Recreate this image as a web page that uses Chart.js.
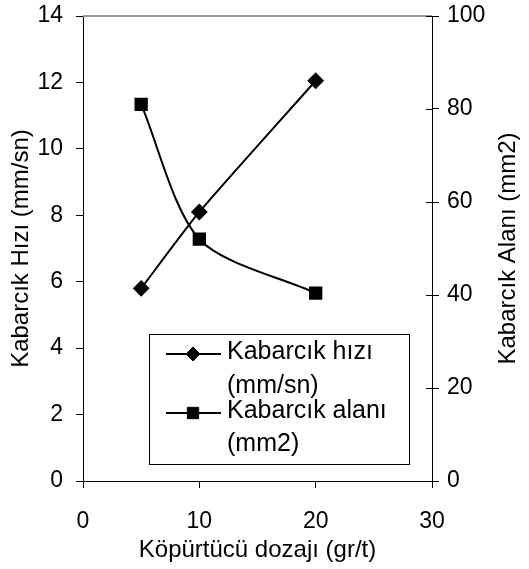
<!DOCTYPE html>
<html>
<head>
<meta charset="utf-8">
<script src="https://cdn.jsdelivr.net/npm/chart.js@4"></script>
<style>
  html, body { margin: 0; padding: 0; background: #fff; }
  #wrap { width: 529px; height: 569px; }
</style>
</head>
<body>
<div id="wrap"><canvas id="grafik" width="529" height="569"></canvas></div>
<script>
// veriler
const dozaj = [5, 10, 20];
const hiz = [5.8, 8.1, 12.05];
const alan = [81, 52, 40.4];
const xTicks = [0, 10, 20, 30];
const solTicks = [0, 2, 4, 6, 8, 10, 12, 14];
const sagTicks = [0, 20, 40, 60, 80, 100];
const seriAdlari = [['Kabarcık hızı', '(mm/sn)'], ['Kabarcık alanı', '(mm2)']];
const sagBaslik = 'Kabarcık Alanı (mm2)';

const FONT = 'Liberation Sans, Arial, sans-serif';

// lejant: excel tarzı, çok satırlı
const lejantPlugin = {
    id: 'lejant',
    afterDatasetsDraw(chart) {
        const ctx = chart.ctx;
        const x0 = 149, y0 = 334, w = 260, h = 130;
        ctx.save();
        ctx.fillStyle = '#fff';
        ctx.fillRect(x0, y0, w, h);
        ctx.strokeStyle = '#000';
        ctx.lineWidth = 1;
        ctx.strokeRect(x0 + 0.5, y0 + 0.5, w, h);

        const satirY = [[352, 386], [411, 444]];
        chart.data.datasets.forEach((ds, i) => {
            const y = satirY[i][0];
            ctx.strokeStyle = '#000';
            ctx.fillStyle = '#000';
            ctx.lineWidth = 2;
            ctx.beginPath();
            ctx.moveTo(166, y + 2);
            ctx.lineTo(221, y + 2);
            ctx.stroke();
            ctx.lineWidth = 1;
            Chart.helpers.drawPoint(ctx, {
                pointStyle: ds.pointStyle,
                radius: ds.pointRadius,
                borderWidth: 1
            }, 193, y + 2);
            ctx.font = '25px ' + FONT;
            ctx.textBaseline = 'middle';
            ctx.textAlign = 'left';
            seriAdlari[i].forEach((s, j) => ctx.fillText(s, 227, satirY[i][j]));
        });
        ctx.restore();
    }
};

// üst gri çizgi, sağ eksende içe doğru tik, sağ eksen başlığı
const cercevePlugin = {
    id: 'cerceve',
    beforeDatasetsDraw(chart) {
        const { ctx, chartArea } = chart;
        ctx.save();
        ctx.strokeStyle = '#999';
        ctx.lineWidth = 2;
        ctx.beginPath();
        ctx.moveTo(chartArea.left, chartArea.top);
        ctx.lineTo(chartArea.right, chartArea.top);
        ctx.stroke();

        const sag = chart.scales.y2;
        ctx.strokeStyle = '#000';
        ctx.lineWidth = 1;
        sag.ticks.forEach(t => {
            const py = Math.round(sag.getPixelForValue(t.value)) + 0.5;
            ctx.beginPath();
            ctx.moveTo(chartArea.right - 6, py);
            ctx.lineTo(chartArea.right, py);
            ctx.stroke();
        });

        ctx.translate(508, (chartArea.top + chartArea.bottom) / 2);
        ctx.rotate(-Math.PI / 2);
        ctx.fillStyle = '#000';
        ctx.font = '24px ' + FONT;
        ctx.textAlign = 'center';
        ctx.textBaseline = 'middle';
        ctx.fillText(sagBaslik, 0, 0);
        ctx.restore();
    }
};

const tikAyar = (liste) => (scale) => {
    scale.ticks = liste.map(v => ({ value: v }));
};

// dikey eksenlerde sabit genişlik, etiket taşması için ek boşluk yok
const dikeyFit = (genislik) => (s) => {
    s.width = genislik;
    s.paddingTop = 0;
    s.paddingBottom = 0;
};

new Chart(document.getElementById('grafik'), {
    type: 'scatter',
    data: {
        datasets: [
            {
                label: seriAdlari[0].join(' '),
                data: dozaj.map((x, i) => ({ x, y: hiz[i] })),
                yAxisID: 'y',
                showLine: true,
                borderColor: '#000',
                backgroundColor: '#000',
                borderWidth: 2,
                pointStyle: 'rectRot',
                pointRadius: 7,
                tension: 0.2
            },
            {
                label: seriAdlari[1].join(' '),
                data: dozaj.map((x, i) => ({ x, y: alan[i] })),
                yAxisID: 'y2',
                showLine: true,
                borderColor: '#000',
                backgroundColor: '#000',
                borderWidth: 2,
                pointStyle: 'rect',
                pointRadius: 8,
                tension: 0.28
            }
        ]
    },
    options: {
        responsive: false,
        animation: false,
        layout: { padding: { top: 16, left: 0, right: 0, bottom: 0 } },
        plugins: {
            legend: { display: false },
            tooltip: { enabled: false }
        },
        scales: {
            x: {
                type: 'linear',
                min: 0, max: 30,
                afterBuildTicks: tikAyar(xTicks),
                afterFit: (s) => { s.height = 88; s.paddingLeft = 0; s.paddingRight = 0; },
                border: { color: '#000', width: 1 },
                grid: { drawOnChartArea: false, color: '#000', tickLength: 7 },
                ticks: { color: '#000', font: { family: FONT, size: 23 }, padding: 20 },
                title: {
                    display: true, text: 'Köpürtücü dozajı (gr/t)', color: '#000',
                    font: { family: FONT, size: 24 }, padding: { top: 0, bottom: 4 }
                }
            },
            y: {
                position: 'left',
                min: 0, max: 14,
                afterBuildTicks: tikAyar(solTicks),
                afterFit: dikeyFit(83),
                border: { color: '#000', width: 1 },
                grid: { drawOnChartArea: false, color: '#000', tickLength: 7 },
                ticks: { color: '#000', font: { family: FONT, size: 23 }, padding: 13 },
                title: {
                    display: true, text: 'Kabarcık Hızı (mm/sn)', color: '#000',
                    font: { family: FONT, size: 24 }, padding: { top: 7, bottom: 0 }
                }
            },
            y2: {
                position: 'right',
                min: 0, max: 100,
                afterBuildTicks: tikAyar(sagTicks),
                afterFit: dikeyFit(97),
                border: { color: '#000', width: 1 },
                grid: { drawOnChartArea: false, color: '#000', tickLength: 7 },
                ticks: { color: '#000', font: { family: FONT, size: 23 }, padding: 8 },
                title: { display: false }
            }
        }
    },
    plugins: [cercevePlugin, lejantPlugin]
});
</script>
</body>
</html>
